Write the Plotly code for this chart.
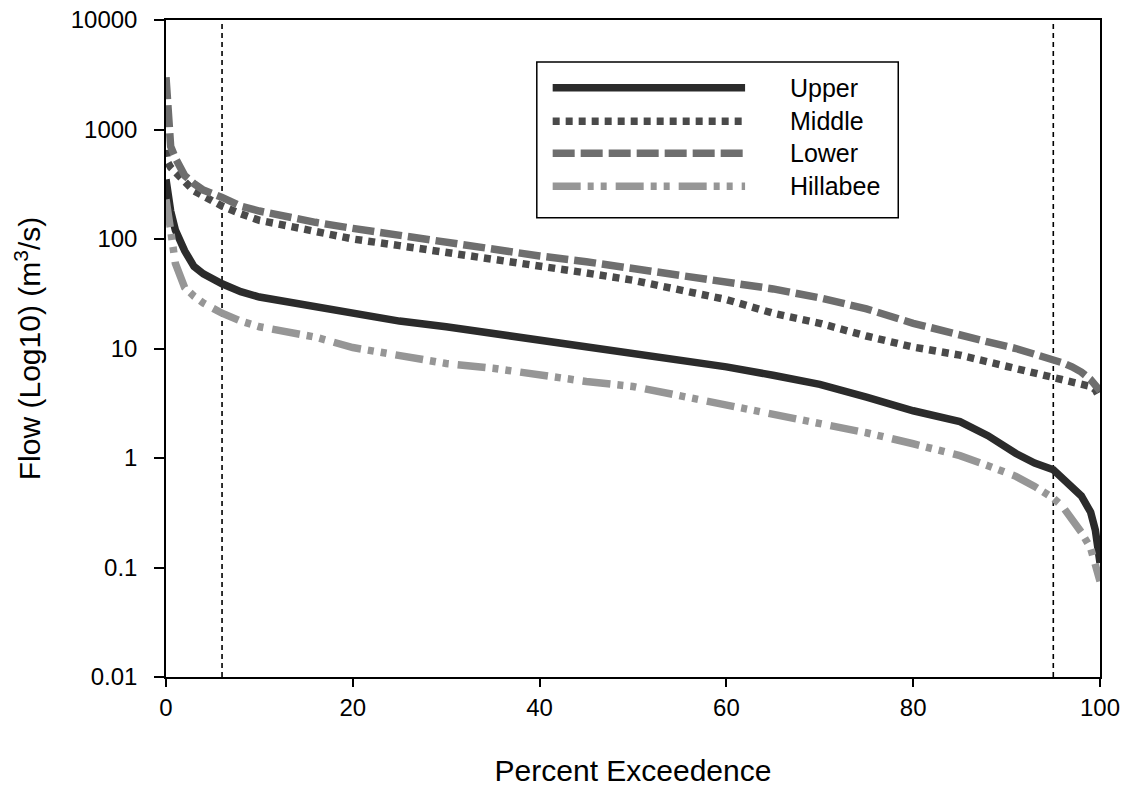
import plotly.graph_objects as go

# Percent exceedence grid (x)
pct = [0, 0.2, 0.5, 1, 2, 3, 4, 6, 8, 10, 13, 16, 20, 25, 30, 35, 40, 45, 50, 55,
       60, 65, 70, 75, 80, 85, 88, 91, 93, 95, 96, 97, 98, 99, 99.5, 100]

upper = [350, 240, 180, 121, 78, 56, 48, 39, 33, 29.5, 26.5, 23.6, 20.5, 17.8, 15.8, 13.7,
         12, 10.5, 9, 7.8, 6.8, 5.7, 4.7, 3.6, 2.7, 2.15, 1.6, 1.1, 0.9, 0.78, 0.65, 0.52,
         0.45, 0.32, 0.22, 0.11]
middle = [650, 500, 450, 400, 335, 275, 245, 200, 170, 148, 132, 118, 100, 87, 76, 65,
          57, 49, 42, 34, 28, 21, 17, 13, 10.3, 8.7, 7.6, 6.6, 6.0, 5.5, 5.2, 5.0, 4.8,
          4.5, 4.2, 3.5]
lower = [3000, 1200, 700, 550, 380, 320, 280, 240, 200, 180, 157, 142, 125, 108, 93, 79,
         70, 62, 54, 47, 41, 35, 29, 23, 17, 13, 11.5, 10, 9, 8.0, 7.4, 6.8, 6.1, 5.2,
         4.6, 4.1]
hillabee = [230, 160, 120, 60, 36, 30, 26, 21, 17.8, 15.8, 14.2, 12.7, 10.2, 8.5, 7.3,
            6.6, 5.7, 5.0, 4.5, 3.7, 3.1, 2.5, 2.1, 1.7, 1.35, 1.05, 0.85, 0.68, 0.55,
            0.43, 0.36, 0.28, 0.21, 0.15, 0.11, 0.075]

series_names = ["Upper", "Middle", "Lower", "Hillabee"]
series_values = [upper, middle, lower, hillabee]
series_colors = ["#2b2b2b", "#4a4a4a", "#6e6e6e", "#969696"]
series_dash = ["solid", "7px,6px", "22px,6px", "28px,7px,6px,7px,6px,9px"]
series_width = [7.5, 7.5, 7.5, 7.5]

exceed_marks = [6, 95]          # dashed reference lines (% exceedence)
y_tickvals = [0.01, 0.1, 1, 10, 100, 1000, 10000]
y_ticktext = ["0.01", "0.1", "1", "10", "100", "1000", "10000"]
x_tickvals = [0, 20, 40, 60, 80, 100]

FONT = "Liberation Sans, Arial, sans-serif"

fig = go.Figure()
for name, vals, col, dash, w in zip(series_names, series_values, series_colors,
                                    series_dash, series_width):
    fig.add_trace(go.Scatter(x=pct, y=vals, mode="lines", name=name,
                             line=dict(color=col, width=w, dash=dash),
                             showlegend=False))

shapes = []
for xm in exceed_marks:
    shapes.append(dict(type="line", xref="x", yref="paper", x0=xm, x1=xm, y0=0, y1=1,
                       line=dict(color="black", width=1.6, dash="5px,4px"), layer="below"))

# custom legend box (long line samples, as in the original)
shapes.append(dict(type="rect", xref="paper", yref="paper", x0=0.397, x1=0.784,
                   y0=0.699, y1=0.936, line=dict(color="black", width=1.5),
                   fillcolor="white"))
row_y = [0.897, 0.846, 0.797, 0.747]
annotations = []
for name, col, dash, w, ry in zip(series_names, series_colors, series_dash,
                                  series_width, row_y):
    shapes.append(dict(type="line", xref="paper", yref="paper", x0=0.414, x1=0.620,
                       y0=ry, y1=ry, line=dict(color=col, width=w, dash=dash)))
    annotations.append(dict(xref="paper", yref="paper", x=0.666, y=ry, text=name,
                            showarrow=False, xanchor="left", yanchor="middle",
                            font=dict(family=FONT, size=25, color="black")))

fig.update_layout(
    width=1126, height=787,
    margin=dict(l=166, r=26, t=20, b=110),
    paper_bgcolor="white", plot_bgcolor="white",
    font=dict(family=FONT, size=24, color="black"),
    shapes=shapes, annotations=annotations,
    showlegend=False,
)
fig.update_xaxes(range=[0, 100], tickvals=x_tickvals, ticks="outside", ticklen=8,
                 tickwidth=1.5, tickcolor="black", showline=True, linecolor="black",
                 linewidth=1.5, mirror=True, showgrid=False, zeroline=False,
                 automargin=False, tickfont=dict(size=24),
                 title=dict(text="Percent Exceedence", font=dict(size=30), standoff=41))
fig.update_yaxes(type="log", range=[-2, 4], tickvals=y_tickvals, ticktext=y_ticktext,
                 ticks="outside", ticklen=10, tickwidth=1.5, tickcolor="black",
                 showline=True, linecolor="black", linewidth=1.5, mirror=True,
                 showgrid=False, zeroline=False, tickfont=dict(size=24),
                 ticklabelstandoff=12, automargin=False,
                 title=dict(text="Flow (Log10) (m<sup>3</sup>/s)", font=dict(size=30),
                            standoff=21))

fig.write_html("out.html")
